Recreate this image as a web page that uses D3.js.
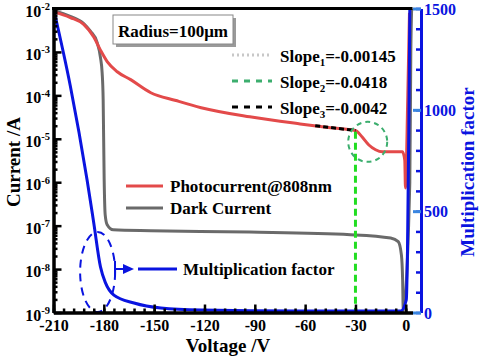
<!DOCTYPE html>
<html>
<head>
<meta charset="utf-8">
<script src="https://cdn.jsdelivr.net/npm/d3@7"></script>
<style>
body { margin: 0; background: #fff; }
text { font-family: "Liberation Serif", "Times New Roman", serif; font-weight: bold; }
</style>
</head>
<body>
<div id="chart"></div>
<script>
// photocurrent @808nm (A)
const photoV = [-210, -200, -192, -186, -182, -178, -172, -164, -152, -137, -122, -93, -63, -45, -30, -26, -22, -18, -14, -2, -0.6, -0.2, 1.2, 2.2];
const photoI = [8.5e-3, 6.2e-3, 4.3e-3, 2.2e-3, 1.1e-3, 6.0e-4, 3.5e-4, 2.3e-4, 1.15e-4, 7.6e-5, 5.2e-5, 3.2e-5, 2.2e-5, 1.8e-5, 1.55e-5, 1.1e-5, 7.2e-6, 5.6e-6, 5.0e-6, 5.0e-6, 3.2e-6, 7.4e-7, 1e-4, 8e-3];

// dark current (A)
const darkV = [-210, -200, -192, -188, -184, -182, -181, -180.4, -179.8, -179.2, -178, -174.4, -152, -93, -33, -9, -4.5, -2.6, -1.9, -1.5, 2.4, 3.0, 3.5];
const darkI = [8.9e-3, 6.6e-3, 4.5e-3, 3.0e-3, 1.66e-3, 7.4e-4, 3.3e-4, 8e-5, 1.15e-6, 1.8e-7, 1.05e-7, 8e-8, 7.6e-8, 7.1e-8, 6.2e-8, 5.2e-8, 4.3e-8, 2.1e-8, 6e-9, 1.1e-9, 1e-6, 1e-3, 1e-2];

// multiplication factor (right axis)
const multV = [-210, -200, -190, -186, -182, -179, -174, -162, -146, -122, -63, -3, 0.3, 1.0, 1.8, 2.4];
const multM = [1500, 1119, 655, 442, 225, 146, 86, 47, 22, 12, 7, 7, 62, 300, 900, 1500];

const xTicks = [-210, -180, -150, -120, -90, -60, -30, 0];
const yTicks = [1e-2, 1e-3, 1e-4, 1e-5, 1e-6, 1e-7, 1e-8, 1e-9];
const rTicks = [0, 500, 1000, 1500];

const slopeLabels = [
    { sub: '1', value: '=-0.00145', color: '#c8c8c8', dash: '2,3' },
    { sub: '2', value: '=-0.0418', color: '#3cae6e', dash: '6,6' },
    { sub: '3', value: '=-0.0042', color: '#000', dash: '6,6' }
];

const red = '#e34a4a', gray = '#6a6a6a', blue = '#0a14e0';

const W = 485, H = 361;
const box = { left: 53.5, right: 412.5, top: 8.5, bottom: 312.5, rAxis: 421 };

const svg = d3.select('#chart').append('svg')
    .attr('width', W).attr('height', H);

const x = d3.scaleLinear().domain([-210, 4]).range([box.left, box.right]);
const y = d3.scaleLog().domain([1e-9, 1e-2]).range([box.bottom, box.top]);
const yR = d3.scaleLinear().domain([0, 1500]).range([box.bottom, box.top]);

svg.append('clipPath').attr('id', 'clip')
    .append('rect').attr('x', box.left).attr('y', box.top)
    .attr('width', box.rAxis - box.left).attr('height', box.bottom - box.top);

const plot = svg.append('g').attr('clip-path', 'url(#clip)');

const lineI = d3.line().x(d => x(d[0])).y(d => y(d[1])).curve(d3.curveMonotoneX);
const lineM = d3.line().x(d => x(d[0])).y(d => yR(d[1])).curve(d3.curveMonotoneX);

// gray then red then blue
plot.append('path').datum(d3.zip(darkV, darkI))
    .attr('d', lineI).attr('fill', 'none').attr('stroke', gray).attr('stroke-width', 3);
plot.append('path').datum(d3.zip(photoV, photoI))
    .attr('d', lineI).attr('fill', 'none').attr('stroke', red).attr('stroke-width', 3);

// slope 3 black dashed segment on photocurrent
plot.append('line')
    .attr('x1', x(-54)).attr('y1', y(2.0e-5)).attr('x2', x(-30)).attr('y2', y(1.55e-5))
    .attr('stroke', '#000').attr('stroke-width', 3).attr('stroke-dasharray', '5,3');

// green vertical dashed at -30 V
plot.append('line')
    .attr('x1', x(-30)).attr('x2', x(-30)).attr('y1', y(1.45e-5)).attr('y2', y(1e-9))
    .attr('stroke', '#22dd22').attr('stroke-width', 3).attr('stroke-dasharray', '7,4');

// green dashed circle
plot.append('ellipse')
    .attr('cx', x(-22.7)).attr('cy', y(8.5e-6)).attr('rx', 19.5).attr('ry', 20)
    .attr('fill', 'none').attr('stroke', '#3cae6e').attr('stroke-width', 2).attr('stroke-dasharray', '5,4');

plot.append('path').datum(d3.zip(multV, multM))
    .attr('d', lineM).attr('fill', 'none').attr('stroke', blue).attr('stroke-width', 3);

// blue dashed ellipse
plot.append('ellipse')
    .attr('cx', x(-183.7)).attr('cy', yR(200)).attr('rx', 17.5).attr('ry', 40)
    .attr('fill', 'none').attr('stroke', blue).attr('stroke-width', 2).attr('stroke-dasharray', '8,6');

// axes
const gx = svg.append('g').attr('transform', `translate(0,${box.bottom})`)
    .call(d3.axisBottom(x).tickValues(d3.range(-210, 1, 6)).tickSize(-4).tickSizeOuter(0).tickFormat(''));
const gx2 = svg.append('g').attr('transform', `translate(0,${box.bottom})`)
    .call(d3.axisBottom(x).tickValues(xTicks).tickSize(-8).tickSizeOuter(0).tickPadding(7));
gx2.selectAll('text').style('font-size', '16px').style('font-family', '"Liberation Serif", serif')
    .style('font-weight', 'bold').attr('fill', '#000')
    .text(d => d < 0 ? '-' + Math.abs(d) : d);

const minorY = [];
yTicks.slice(1).forEach(t => { for (let k = 2; k <= 9; k++) minorY.push(t * k); });
const gy = svg.append('g').attr('transform', `translate(${box.left},0)`)
    .call(d3.axisLeft(y).tickValues(minorY).tickSize(-4).tickSizeOuter(0).tickFormat(''));
const gy2 = svg.append('g').attr('transform', `translate(${box.left},0)`)
    .call(d3.axisLeft(y).tickValues(yTicks).tickSize(-8).tickSizeOuter(0).tickFormat(''));

[gx, gx2, gy, gy2].forEach(g => {
    g.select('.domain').attr('stroke', '#000').attr('stroke-width', 3);
    g.selectAll('.tick line').attr('stroke', '#000').attr('stroke-width', 2.5);
});

yTicks.forEach(t => {
    const txt = svg.append('text')
        .attr('x', 50).attr('y', y(t) + 8)
        .attr('text-anchor', 'end').style('font-size', '16px');
    txt.append('tspan').text('10');
    txt.append('tspan').attr('dy', -6.5).style('font-size', '10.5px').text(String(Math.round(Math.log10(t))));
});

// top frame
svg.append('line').attr('x1', box.left - 1.5).attr('x2', box.right).attr('y1', box.top).attr('y2', box.top)
    .attr('stroke', '#000').attr('stroke-width', 3);

// right axis
const gr = svg.append('g').attr('transform', `translate(${box.rAxis},0)`)
    .call(d3.axisRight(yR).tickValues(d3.range(0, 1501, 100)).tickSize(-5).tickSizeOuter(0).tickFormat(''));
gr.select('.domain').attr('stroke', blue).attr('stroke-width', 3);
gr.selectAll('.tick line').attr('stroke', blue).attr('stroke-width', 2.5);
const gr2 = svg.append('g').attr('transform', `translate(${box.rAxis},0)`)
    .call(d3.axisRight(yR).tickValues(rTicks).tickSize(-8).tickSizeOuter(0).tickFormat(''));
gr2.select('.domain').remove();
gr2.selectAll('.tick line').attr('stroke', '#3a86e0').attr('stroke-width', 3);
rTicks.forEach(t => {
    svg.append('text').attr('x', 424).attr('y', yR(t) + 6)
        .style('font-size', '16px').attr('fill', blue).text(t);
});

// axis titles
svg.append('text').attr('x', 228).attr('y', 352).attr('text-anchor', 'middle')
    .style('font-size', '19px').text('Voltage /V');
svg.append('text').attr('transform', 'translate(20,162) rotate(-90)').attr('text-anchor', 'middle')
    .style('font-size', '19px').text('Current /A');
svg.append('text').attr('transform', 'translate(474,172) rotate(-90)').attr('text-anchor', 'middle')
    .style('font-size', '19px').attr('fill', blue).text('Multiplication factor');

// radius box
svg.append('rect').attr('x', 116).attr('y', 18).attr('width', 120).attr('height', 29).attr('fill', '#9a9a9a');
svg.append('rect').attr('x', 113).attr('y', 15).attr('width', 120).attr('height', 29)
    .attr('fill', '#fff').attr('stroke', '#888').attr('stroke-width', 1);
svg.append('text').attr('x', 173).attr('y', 37).attr('text-anchor', 'middle')
    .style('font-size', '17px').text('Radius=100\u03bcm');

// slope legend
slopeLabels.forEach((s, i) => {
    const yy = 55 + i * 26;
    svg.append('line').attr('x1', 232).attr('x2', 272).attr('y1', yy).attr('y2', yy)
        .attr('stroke', s.color).attr('stroke-width', 3).attr('stroke-dasharray', s.dash);
    const t = svg.append('text').attr('x', 280).attr('y', yy + 7).style('font-size', '17px');
    t.append('tspan').text('Slope');
    t.append('tspan').attr('dy', 4).style('font-size', '11px').text(s.sub);
    t.append('tspan').attr('dy', -4).text(s.value);
});

// current legend
[['Photocurrent@808nm', red, 186], ['Dark Current', gray, 208]].forEach(([label, c, yy]) => {
    svg.append('line').attr('x1', 126).attr('x2', 163).attr('y1', yy).attr('y2', yy)
        .attr('stroke', c).attr('stroke-width', 3);
    svg.append('text').attr('x', 170).attr('y', yy + 6).style('font-size', '17px').text(label);
});

// multiplication annotation
const ay = 269;
svg.append('line').attr('x1', 115).attr('x2', 115).attr('y1', ay - 8).attr('y2', ay + 8)
    .attr('stroke', blue).attr('stroke-width', 2);
svg.append('line').attr('x1', 115).attr('x2', 124).attr('y1', ay).attr('y2', ay)
    .attr('stroke', blue).attr('stroke-width', 2);
svg.append('path').attr('d', `M123,${ay - 5}L134,${ay}L123,${ay + 5}Z`).attr('fill', blue);
svg.append('line').attr('x1', 138).attr('x2', 177).attr('y1', ay).attr('y2', ay)
    .attr('stroke', blue).attr('stroke-width', 3);
svg.append('text').attr('x', 183).attr('y', ay + 6).style('font-size', '17px').text('Multiplication factor');
</script>
</body>
</html>
